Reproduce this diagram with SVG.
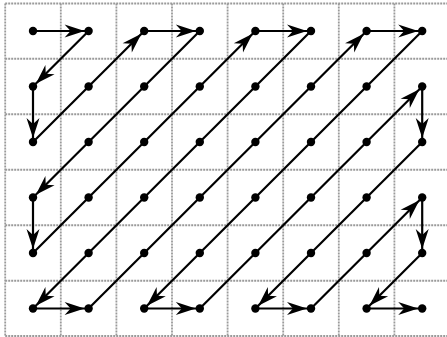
<svg xmlns="http://www.w3.org/2000/svg" width="447" height="337" viewBox="0 0 447 337">
<style>
.grid{stroke:#9a9a9a;stroke-width:1.8;stroke-dasharray:2 1;fill:none}
.c{stroke:#000;stroke-width:2.2;fill:none;marker-end:url(#ah)}
.n{fill:#000}
</style>
<defs>
<marker id="ah" markerUnits="userSpaceOnUse" orient="auto" markerWidth="30" markerHeight="16" refX="4" refY="0" viewBox="-22 -8 30 16" overflow="visible">
<path d="M0,0 L-20,-6.5 L-14,0 L-20,6.5 Z" fill="#000"/>
</marker>
</defs>
<rect width="447" height="337" fill="#fff"/>
<g id="grid" class="grid">
<path d="M5.2,3.5 V336.5 M60.8,3.5 V336.5 M116.4,3.5 V336.5 M172,3.5 V336.5 M227.6,3.5 V336.5 M283.2,3.5 V336.5 M338.8,3.5 V336.5 M394.4,3.5 V336.5"/>
<path d="M5.2,3.5 H447 M5.2,58.75 H447 M5.2,114.25 H447 M5.2,169.75 H447 M5.2,225.25 H447 M5.2,280.75 H447 M5.2,336 H447"/>
</g>
<g id="connectors">
<path class="c" d="M33,31 H88.6"/>
<path class="c" d="M88.6,31 L33,86.5"/>
<path class="c" d="M33,86.5 V142"/>
<path class="c" d="M33,142 L144.2,31"/>
<path class="c" d="M144.2,31 H199.8"/>
<path class="c" d="M199.8,31 L33,197.5"/>
<path class="c" d="M33,197.5 V253"/>
<path class="c" d="M33,253 L255.4,31"/>
<path class="c" d="M255.4,31 H311"/>
<path class="c" d="M311,31 L33,308.5"/>
<path class="c" d="M33,308.5 H88.6"/>
<path class="c" d="M88.6,308.5 L366.6,31"/>
<path class="c" d="M366.6,31 H422.2"/>
<path class="c" d="M422.2,31 L144.2,308.5"/>
<path class="c" d="M144.2,308.5 H199.8"/>
<path class="c" d="M199.8,308.5 L422.2,86.5"/>
<path class="c" d="M422.2,86.5 V142"/>
<path class="c" d="M422.2,142 L255.4,308.5"/>
<path class="c" d="M255.4,308.5 H311"/>
<path class="c" d="M311,308.5 L422.2,197.5"/>
<path class="c" d="M422.2,197.5 V253"/>
<path class="c" d="M422.2,253 L366.6,308.5"/>
<path class="c" d="M366.6,308.5 H422.2"/>
</g>
<g id="n00"><circle class="n" cx="33" cy="31" r="4.2"/></g>
<g id="n10"><circle class="n" cx="88.6" cy="31" r="4.2"/></g>
<g id="n20"><circle class="n" cx="144.2" cy="31" r="4.2"/></g>
<g id="n30"><circle class="n" cx="199.8" cy="31" r="4.2"/></g>
<g id="n40"><circle class="n" cx="255.4" cy="31" r="4.2"/></g>
<g id="n50"><circle class="n" cx="311" cy="31" r="4.2"/></g>
<g id="n60"><circle class="n" cx="366.6" cy="31" r="4.2"/></g>
<g id="n70"><circle class="n" cx="422.2" cy="31" r="4.2"/></g>
<g id="n01"><circle class="n" cx="33" cy="86.5" r="4.2"/></g>
<g id="n11"><circle class="n" cx="88.6" cy="86.5" r="4.2"/></g>
<g id="n21"><circle class="n" cx="144.2" cy="86.5" r="4.2"/></g>
<g id="n31"><circle class="n" cx="199.8" cy="86.5" r="4.2"/></g>
<g id="n41"><circle class="n" cx="255.4" cy="86.5" r="4.2"/></g>
<g id="n51"><circle class="n" cx="311" cy="86.5" r="4.2"/></g>
<g id="n61"><circle class="n" cx="366.6" cy="86.5" r="4.2"/></g>
<g id="n71"><circle class="n" cx="422.2" cy="86.5" r="4.2"/></g>
<g id="n02"><circle class="n" cx="33" cy="142" r="4.2"/></g>
<g id="n12"><circle class="n" cx="88.6" cy="142" r="4.2"/></g>
<g id="n22"><circle class="n" cx="144.2" cy="142" r="4.2"/></g>
<g id="n32"><circle class="n" cx="199.8" cy="142" r="4.2"/></g>
<g id="n42"><circle class="n" cx="255.4" cy="142" r="4.2"/></g>
<g id="n52"><circle class="n" cx="311" cy="142" r="4.2"/></g>
<g id="n62"><circle class="n" cx="366.6" cy="142" r="4.2"/></g>
<g id="n72"><circle class="n" cx="422.2" cy="142" r="4.2"/></g>
<g id="n03"><circle class="n" cx="33" cy="197.5" r="4.2"/></g>
<g id="n13"><circle class="n" cx="88.6" cy="197.5" r="4.2"/></g>
<g id="n23"><circle class="n" cx="144.2" cy="197.5" r="4.2"/></g>
<g id="n33"><circle class="n" cx="199.8" cy="197.5" r="4.2"/></g>
<g id="n43"><circle class="n" cx="255.4" cy="197.5" r="4.2"/></g>
<g id="n53"><circle class="n" cx="311" cy="197.5" r="4.2"/></g>
<g id="n63"><circle class="n" cx="366.6" cy="197.5" r="4.2"/></g>
<g id="n73"><circle class="n" cx="422.2" cy="197.5" r="4.2"/></g>
<g id="n04"><circle class="n" cx="33" cy="253" r="4.2"/></g>
<g id="n14"><circle class="n" cx="88.6" cy="253" r="4.2"/></g>
<g id="n24"><circle class="n" cx="144.2" cy="253" r="4.2"/></g>
<g id="n34"><circle class="n" cx="199.8" cy="253" r="4.2"/></g>
<g id="n44"><circle class="n" cx="255.4" cy="253" r="4.2"/></g>
<g id="n54"><circle class="n" cx="311" cy="253" r="4.2"/></g>
<g id="n64"><circle class="n" cx="366.6" cy="253" r="4.2"/></g>
<g id="n74"><circle class="n" cx="422.2" cy="253" r="4.2"/></g>
<g id="n05"><circle class="n" cx="33" cy="308.5" r="4.2"/></g>
<g id="n15"><circle class="n" cx="88.6" cy="308.5" r="4.2"/></g>
<g id="n25"><circle class="n" cx="144.2" cy="308.5" r="4.2"/></g>
<g id="n35"><circle class="n" cx="199.8" cy="308.5" r="4.2"/></g>
<g id="n45"><circle class="n" cx="255.4" cy="308.5" r="4.2"/></g>
<g id="n55"><circle class="n" cx="311" cy="308.5" r="4.2"/></g>
<g id="n65"><circle class="n" cx="366.6" cy="308.5" r="4.2"/></g>
<g id="n75"><circle class="n" cx="422.2" cy="308.5" r="4.2"/></g>
</svg>
